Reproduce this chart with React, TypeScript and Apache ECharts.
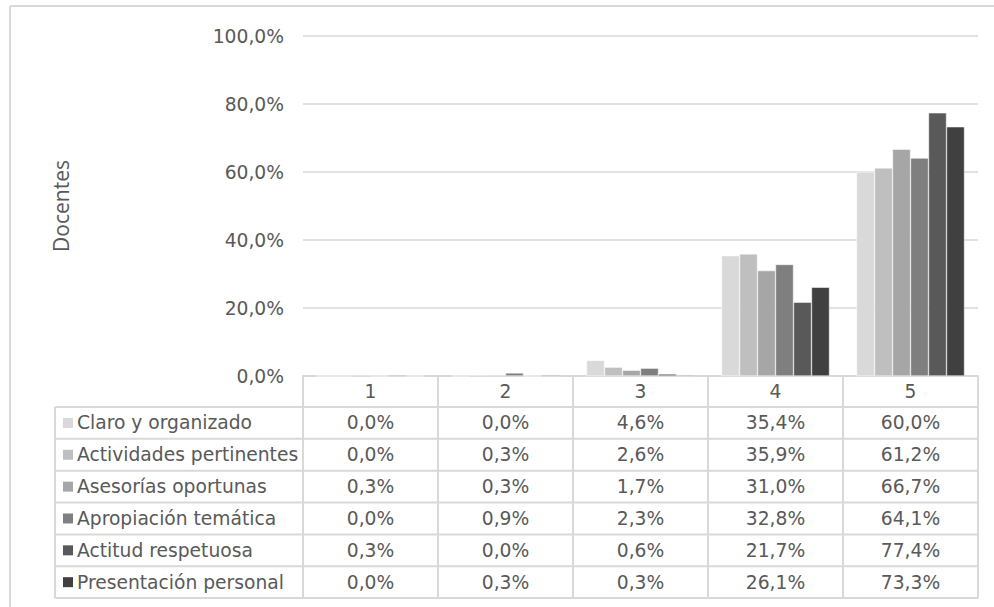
import React, { useEffect, useRef } from "react";
import * as echarts from "echarts";

const categories = ["1", "2", "3", "4", "5"];
const seriesNames = [
  "Claro y organizado",
  "Actividades pertinentes",
  "Asesorías oportunas",
  "Apropiación temática",
  "Actitud respetuosa",
  "Presentación personal",
];
const claro = [0.0, 0.0, 4.6, 35.4, 60.0];
const actividades = [0.0, 0.3, 2.6, 35.9, 61.2];
const asesorias = [0.3, 0.3, 1.7, 31.0, 66.7];
const apropiacion = [0.0, 0.9, 2.3, 32.8, 64.1];
const actitud = [0.3, 0.0, 0.6, 21.7, 77.4];
const presentacion = [0.0, 0.3, 0.3, 26.1, 73.3];
const seriesValues = [claro, actividades, asesorias, apropiacion, actitud, presentacion];
const colors = ["#d9d9d9", "#bfbfbf", "#a6a6a6", "#7f7f7f", "#595959", "#404040"];
const yTicks = [0, 20, 40, 60, 80, 100];

const fmt = (v: number) => v.toFixed(1).replace(".", ",") + "%";

const W = 994;
const H = 607;
const GRID_LEFT = 303;
const GRID_RIGHT = 16;
const GRID_TOP = 36;
const GRID_BOTTOM = 231;
const HEADER_H = 31;
const ROW_H = 31.85;
const LABEL_LEFT = 55;
const FONT = "DejaVu Sans, Verdana, sans-serif";
const FS = 18.7;
const TEXT = "#595959";
const LINE = "#d9d9d9";

export default function App() {
  const ref = useRef<HTMLDivElement>(null);
  useEffect(() => {
    if (!ref.current) return;
    const chart = echarts.init(ref.current, undefined, { renderer: "svg" });
    chart.setOption({
      animation: false,
      backgroundColor: "#ffffff",
      grid: { left: GRID_LEFT, right: GRID_RIGHT, top: GRID_TOP, bottom: GRID_BOTTOM },
      xAxis: {
        type: "category",
        data: categories,
        axisLine: { show: true, lineStyle: { color: LINE, width: 2 } },
        axisTick: { show: false },
        axisLabel: {
          color: TEXT,
          fontSize: FS,
          fontFamily: FONT,
          margin: 6,
          verticalAlign: "top",
          lineHeight: 19,
        },
      },
      yAxis: {
        type: "value",
        min: 0,
        max: yTicks[yTicks.length - 1],
        interval: yTicks[1] - yTicks[0],
        name: "Docentes",
        nameLocation: "middle",
        nameRotate: 90,
        nameGap: 232,
        nameTextStyle: { color: TEXT, fontSize: 21, fontFamily: "Open Sans, Noto Sans, sans-serif" },
        axisLine: { show: false },
        axisTick: { show: false },
        axisLabel: {
          color: TEXT,
          fontSize: FS,
          fontFamily: FONT,
          margin: 19,
          formatter: (v: number) => fmt(v),
        },
        splitLine: { lineStyle: { color: LINE, width: 1.5 } },
      },
      series: seriesNames.map((name, i) => ({
        name,
        type: "bar",
        data: seriesValues[i],
        barGap: "0%",
        barCategoryGap: "20%",
        itemStyle: { color: colors[i], borderColor: "#ffffff", borderWidth: 0.5 },
      })),
    });

    // build the data table beneath the plot
    const baseY = H - GRID_BOTTOM;
    const headerBottom = baseY + HEADER_H;
    const colCenters = categories.map((c) => chart.convertToPixel({ xAxisIndex: 0 }, c) as number);
    const colW = colCenters.length > 1 ? colCenters[1] - colCenters[0] : 135;
    const rightX = W - GRID_RIGHT;
    const tableBottom = headerBottom + ROW_H * seriesNames.length;
    const elements: any[] = [];
    const lineStyle = { stroke: LINE, lineWidth: 2 };
    elements.push({ type: "line", shape: { x1: 10, y1: 6, x2: W, y2: 6 }, style: { stroke: LINE, lineWidth: 2 } });
    elements.push({ type: "line", shape: { x1: 10, y1: 6, x2: 10, y2: H }, style: { stroke: LINE, lineWidth: 2 } });
    elements.push({ type: "line", shape: { x1: GRID_LEFT, y1: baseY, x2: GRID_LEFT, y2: tableBottom }, style: lineStyle });
    colCenters.forEach((cx) => {
      const x = cx + colW / 2;
      elements.push({ type: "line", shape: { x1: x, y1: baseY, x2: x, y2: tableBottom }, style: lineStyle });
    });
    elements.push({ type: "line", shape: { x1: LABEL_LEFT, y1: headerBottom, x2: LABEL_LEFT, y2: tableBottom }, style: lineStyle });
    for (let r = 0; r <= seriesNames.length; r++) {
      const y = headerBottom + ROW_H * r;
      elements.push({ type: "line", shape: { x1: LABEL_LEFT, y1: y, x2: rightX, y2: y }, style: lineStyle });
    }
    seriesNames.forEach((name, r) => {
      const cy = headerBottom + ROW_H * r + ROW_H / 2;
      elements.push({
        type: "rect",
        shape: { x: 63, y: cy - 5, width: 10, height: 10 },
        style: { fill: colors[r] },
      });
      elements.push({
        type: "text",
        x: 77,
        y: cy,
        style: { text: name, fill: TEXT, fontSize: FS, fontFamily: FONT, verticalAlign: "middle", align: "left" },
      });
      seriesValues[r].forEach((v, c) => {
        elements.push({
          type: "text",
          x: colCenters[c],
          y: cy,
          style: { text: fmt(v), fill: TEXT, fontSize: FS, fontFamily: FONT, verticalAlign: "middle", align: "center" },
        });
      });
    });
    chart.setOption({ graphic: { elements } });

    return () => chart.dispose();
  }, []);
  return (
    <div
      ref={ref}
      style={{ position: "fixed", left: 0, top: 0, width: W, height: H, background: "#fff" }}
    />
  );
}
